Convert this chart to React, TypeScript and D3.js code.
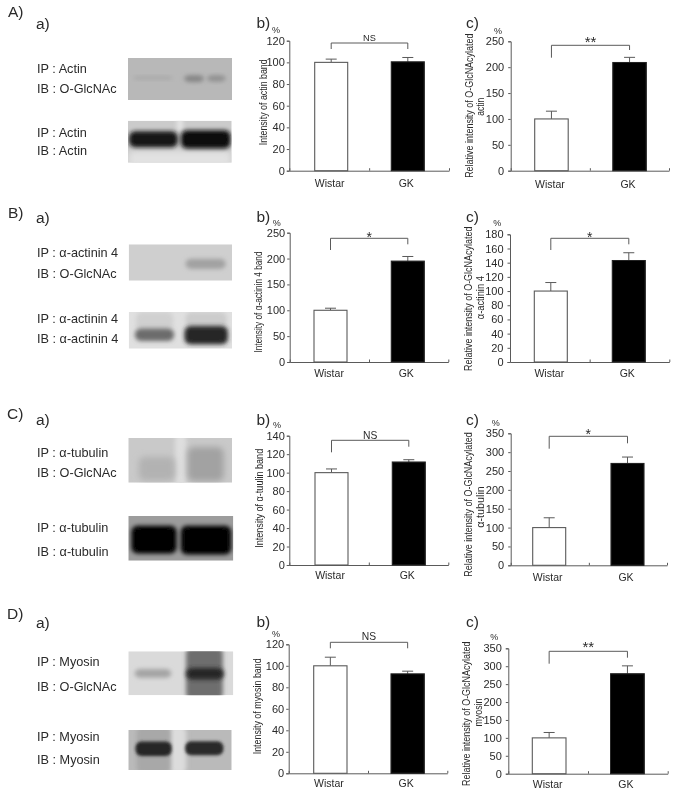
import React, { useEffect, useRef } from "react";
import * as d3 from "d3";

const groups = ["Wistar", "GK"];

// values: mean and upper error for Wistar, GK
const actinBandMeans = [100, 100.5];
const actinBandErrors = [3, 4];
const actinGlcMeans = [100, 209];
const actinGlcErrors = [15, 10];
const actininBandMeans = [100, 195];
const actininBandErrors = [4, 9];
const actininGlcMeans = [100, 143];
const actininGlcErrors = [12, 11];
const tubulinBandMeans = [100, 111.5];
const tubulinBandErrors = [4, 2.5];
const tubulinGlcMeans = [100, 270];
const tubulinGlcErrors = [26, 17];
const myosinBandMeans = [100, 92.5];
const myosinBandErrors = [8, 2.5];
const myosinGlcMeans = [100, 279];
const myosinGlcErrors = [15, 22];

const sectionLetters = ["A)", "B)", "C)", "D)"];
const sectionLabels = [
  ["IP : Actin", "IB : O-GlcNAc", "IP : Actin", "IB : Actin"],
  ["IP : α-actinin 4", "IB : O-GlcNAc", "IP : α-actinin 4", "IB : α-actinin 4"],
  ["IP : α-tubulin", "IB : O-GlcNAc", "IP : α-tubulin", "IB : α-tubulin"],
  ["IP : Myosin", "IB : O-GlcNAc", "IP : Myosin", "IB : Myosin"],
];

const charts = [
  { mark: "b)", means: actinBandMeans, errors: actinBandErrors, max: 120, step: 20, sig: "NS", title: ["Intensity of actin band"] },
  { mark: "c)", means: actinGlcMeans, errors: actinGlcErrors, max: 250, step: 50, sig: "**", title: ["Relative intensity of O-GlcNAcylated", "actin"] },
  { mark: "b)", means: actininBandMeans, errors: actininBandErrors, max: 250, step: 50, sig: "*", title: ["Intensity of  α-actinin 4 band"] },
  { mark: "c)", means: actininGlcMeans, errors: actininGlcErrors, max: 180, step: 20, sig: "*", title: ["Relative intensity of O-GlcNAcylated", "α-actinin 4"] },
  { mark: "b)", means: tubulinBandMeans, errors: tubulinBandErrors, max: 140, step: 20, sig: "NS", title: ["Intensity of α-tuulin band"] },
  { mark: "c)", means: tubulinGlcMeans, errors: tubulinGlcErrors, max: 350, step: 50, sig: "*", title: ["Relative intensity of O-GlcNAcylated", "α-tubulin"] },
  { mark: "b)", means: myosinBandMeans, errors: myosinBandErrors, max: 120, step: 20, sig: "NS", title: ["Intensity of myosin band"] },
  { mark: "c)", means: myosinGlcMeans, errors: myosinGlcErrors, max: 350, step: 50, sig: "**", title: ["Relative intensity of O-GlcNAcylated", "myosin"] },
];

// page layout, one row per chart above
// ax/top/bottom/right: axis box, b0/b1/bw: bars, br*: bracket, sigY, pct, markY, tx/ty: y title, l2: second title line, len: title lengths, gy: group label
const layout = [
  { ax: 289.3, top: 40.7, bottom: 170.7, right: 449, b0: 314.7, b1: 424.3, bw: 33, brY: 43, brL: 49, brR: 49, sigY: 41, sigSize: 9.2, pctX: 276, pctY: 33.4, markX: 256.5, markY: 28, tx: 263.3, ty: 102.3, l2: 0, l2y: 0, len: [86], gy: 186.7, pad: 1 },
  { ax: 510.7, top: 41.3, bottom: 170.7, right: 669, b0: 534.7, b1: 646.3, bw: 33.5, brY: 45.3, brL: 57.7, brR: 50, sigY: 46.5, sigSize: 15, pctX: 498, pctY: 34, markX: 466, markY: 28, tx: 470, ty: 105.7, l2: 481, l2y: 106.7, len: [144.3, 18], gy: 188, pad: 3 },
  { ax: 289.7, top: 232.7, bottom: 362, right: 448.3, b0: 314, b1: 424.3, bw: 33, brY: 238.3, brL: 250, brR: 244.3, sigY: 241.5, sigSize: 14, pctX: 276.7, pctY: 225.5, markX: 256.5, markY: 221.7, tx: 259, ty: 302, l2: 0, l2y: 0, len: [101], gy: 376.7, pad: 1 },
  { ax: 510, top: 234.3, bottom: 362, right: 669.3, b0: 534.3, b1: 645.3, bw: 33, brY: 238.3, brL: 250, brR: 244.3, sigY: 241.5, sigSize: 14, pctX: 497.3, pctY: 226, markX: 466, markY: 221.7, tx: 468.3, ty: 298.8, l2: 481, l2y: 297.7, len: [144.3, 43], gy: 376.7, pad: 3 },
  { ax: 289.3, top: 435.7, bottom: 565, right: 448.3, b0: 315, b1: 425.3, bw: 33, brY: 440.3, brL: 452.3, brR: 446.7, sigY: 438.5, sigSize: 10.3, pctX: 277, pctY: 428.4, markX: 256.5, markY: 425, tx: 259.7, ty: 498.3, l2: 0, l2y: 0, len: [99], gy: 579.3, pad: 1 },
  { ax: 510.7, top: 433.3, bottom: 565.3, right: 667, b0: 532.7, b1: 644, bw: 33, brY: 436.3, brL: 448.7, brR: 443.3, sigY: 439, sigSize: 14, pctX: 495.7, pctY: 425.7, markX: 466, markY: 425, tx: 468.3, ty: 504.5, l2: 481, l2y: 507, len: [144.3, 41.7], gy: 580.7, pad: 3 },
  { ax: 288.7, top: 644.3, bottom: 773.3, right: 447.3, b0: 313.7, b1: 424.3, bw: 33.3, brY: 642.3, brL: 648.3, brR: 648.3, sigY: 640, sigSize: 10.3, pctX: 276, pctY: 637, markX: 256.5, markY: 626.7, tx: 257.7, ty: 706.3, l2: 0, l2y: 0, len: [96], gy: 786.7, pad: 1 },
  { ax: 508.3, top: 648.3, bottom: 773.7, right: 667.7, b0: 532.3, b1: 644.3, bw: 33.7, brY: 651.3, brL: 663.7, brR: 657.7, sigY: 652, sigSize: 15, pctX: 494.3, pctY: 640, markX: 466, markY: 626.7, tx: 467, ty: 713.8, l2: 478.3, l2y: 712.5, len: [144.3, 28], gy: 788.3, pad: 3 },
];

const letterPos = [
  { x: 8, y: 17, ax: 36, ay: 29 },
  { x: 8, y: 217.7, ax: 36, ay: 222.7 },
  { x: 7, y: 419, ax: 36, ay: 425 },
  { x: 7, y: 619, ax: 36, ay: 627.7 },
];
const labelBaselines = [
  [73.3, 93.3, 137, 155],
  [257.3, 278, 323.3, 343.3],
  [456.7, 477.3, 532, 555.7],
  [666, 690.7, 740.7, 764],
];

// blot photographs: box in page px, patches as fractions of the box [x0, x1, y0, y1, grey, blur]
const blots = [
  { x0: 128, x1: 232, y0: 58, y1: 100, bg: "#b8b8b8", patches: [[0.05, 0.43, 0.43, 0.52, "#a9a9a9", 2], [0.54, 0.73, 0.41, 0.57, "#858585", 2], [0.76, 0.94, 0.41, 0.56, "#909090", 2]] },
  { x0: 128, x1: 231.7, y0: 120.7, y1: 162.7, bg: "#cbcbcb", patches: [[0, 1, 0.72, 1.1, "#e2e2e2", 3], [0.47, 0.53, -0.1, 0.28, "#e4e4e4", 2], [0.01, 0.48, 0.25, 0.63, "#141414", 2], [0.51, 0.99, 0.23, 0.66, "#0c0c0c", 2]] },
  { x0: 128.7, x1: 232, y0: 244.3, y1: 280.7, bg: "#cfcfcf", patches: [[0.55, 0.94, 0.4, 0.68, "#a2a2a2", 2]] },
  { x0: 128.7, x1: 232, y0: 312, y1: 348.7, bg: "#e0e0e0", patches: [[0.07, 0.43, 0, 0.5, "#d0d0d0", 2], [0.55, 0.95, 0, 0.42, "#cccccc", 2], [0.06, 0.44, 0.45, 0.79, "#6c6c6c", 2], [0.54, 0.96, 0.38, 0.88, "#262626", 2]] },
  { x0: 128.3, x1: 232, y0: 438, y1: 482.7, bg: "#c9c9c9", patches: [[0.45, 0.56, -0.1, 1.1, "#dedede", 2], [0.1, 0.45, 0.42, 0.95, "#b2b2b2", 3], [0.57, 0.92, 0.2, 0.97, "#a2a2a2", 3]] },
  { x0: 128.3, x1: 233.3, y0: 516, y1: 560.7, bg: "#9c9c9c", patches: [[0.03, 0.46, 0.22, 0.84, "#060606", 2], [0.5, 0.98, 0.22, 0.86, "#040404", 2]] },
  { x0: 128.3, x1: 233.3, y0: 651.3, y1: 695.3, bg: "#dadada", patches: [[0.06, 0.41, 0.4, 0.6, "#a4a4a4", 2], [0.55, 0.9, -0.1, 1.1, "#6e6e6e", 2], [0.55, 0.91, 0.38, 0.64, "#262626", 2]] },
  { x0: 128.3, x1: 231.7, y0: 730, y1: 770, bg: "#bababa", patches: [[0.4, 0.56, -0.1, 1.1, "#dcdcdc", 2], [0.08, 0.41, -0.1, 1.1, "#a8a8a8", 2], [0.07, 0.42, 0.29, 0.65, "#282828", 1.5], [0.55, 0.92, 0.28, 0.63, "#2c2c2c", 1.5]] },
];

const FONT = "'Liberation Sans', Arial, sans-serif";
const INK = "#2a2a2a";
const LINE = "#5a5a5a";

const App = () => {
  const ref = useRef<SVGSVGElement | null>(null);

  useEffect(() => {
    const svg = d3.select(ref.current);
    svg.selectAll("*").remove();
    svg.attr("font-family", FONT).attr("fill", INK);

    const defs = svg.append("defs");
    [1.5, 2, 3].forEach((s) => {
      defs.append("filter")
        .attr("id", `blur${String(s).replace(".", "_")}`)
        .attr("x", "-50%").attr("y", "-50%").attr("width", "200%").attr("height", "200%")
        .append("feGaussianBlur").attr("stdDeviation", s);
    });
    // the scan is a bit soft overall
    defs.append("filter").attr("id", "soft")
      .attr("filterUnits", "userSpaceOnUse")
      .attr("x", 0).attr("y", 0).attr("width", 685).attr("height", 806)
      .append("feGaussianBlur").attr("stdDeviation", 0.35);

    const root = svg.append("g").attr("filter", "url(#soft)");

    // blots
    blots.forEach((b, i) => {
      const sx = d3.scaleLinear().domain([0, 1]).range([b.x0, b.x1]);
      const sy = d3.scaleLinear().domain([0, 1]).range([b.y0, b.y1]);
      defs.append("clipPath").attr("id", `blot${i}`)
        .append("rect").attr("x", b.x0).attr("y", b.y0).attr("width", b.x1 - b.x0).attr("height", b.y1 - b.y0);
      const g = root.append("g").attr("clip-path", `url(#blot${i})`);
      g.append("rect").attr("x", b.x0).attr("y", b.y0).attr("width", b.x1 - b.x0).attr("height", b.y1 - b.y0).attr("fill", b.bg);
      g.selectAll("rect.patch").data(b.patches).join("rect").attr("class", "patch")
        .attr("x", (p: any) => sx(p[0]))
        .attr("width", (p: any) => sx(p[1]) - sx(p[0]))
        .attr("y", (p: any) => sy(p[2]))
        .attr("height", (p: any) => sy(p[3]) - sy(p[2]))
        .attr("rx", 6)
        .attr("fill", (p: any) => p[4])
        .attr("filter", (p: any) => `url(#blur${String(p[5]).replace(".", "_")})`);
    });

    // left column text
    sectionLetters.forEach((letter, i) => {
      const p = letterPos[i];
      root.append("text").attr("x", p.x).attr("y", p.y).attr("font-size", 15.5).text(letter);
      root.append("text").attr("x", p.ax).attr("y", p.ay).attr("font-size", 15.5).text("a)");
      sectionLabels[i].forEach((t, j) => {
        root.append("text").attr("x", 37).attr("y", labelBaselines[i][j]).attr("font-size", 12.7).text(t);
      });
    });

    // bar charts
    charts.forEach((c, i) => {
      const l = layout[i];
      const g = root.append("g");
      const y = d3.scaleLinear().domain([0, c.max]).range([l.bottom, l.top]);
      const gap = l.b1 - l.b0 - 2 * l.bw;
      const x = d3.scaleBand().domain(groups).range([l.b0, l.b1]).paddingInner(gap / (l.bw + gap));
      const mid = (name: string) => (x(name) as number) + x.bandwidth() / 2;

      const yAxis = d3.axisLeft(y)
        .tickValues(d3.range(0, c.max + 1, c.step))
        .tickSize(2.5)
        .tickPadding(l.pad + 1);
      const ga = g.append("g").attr("transform", `translate(${l.ax},0)`).call(yAxis);
      ga.selectAll("path,line").attr("stroke", LINE);
      ga.selectAll("text").attr("font-size", 11).attr("font-family", FONT).attr("fill", INK);

      const xAxis = d3.axisBottom(d3.scaleLinear().domain([0, 2]).range([l.ax, l.right]))
        .tickValues([0, 1, 2])
        .tickSize(-2.5)
        .tickSizeOuter(0)
        .tickFormat(() => "");
      const gx = g.append("g").attr("transform", `translate(0,${l.bottom})`).call(xAxis);
      gx.selectAll("path,line").attr("stroke", LINE);

      // error bars first, the bars sit on top of the stems
      g.selectAll("line.stem").data(groups).join("line").attr("class", "stem")
        .attr("x1", (d) => mid(d)).attr("x2", (d) => mid(d))
        .attr("y1", (d, k) => y(c.means[k]))
        .attr("y2", (d, k) => y(c.means[k] + c.errors[k]))
        .attr("stroke", LINE);
      g.selectAll("line.cap").data(groups).join("line").attr("class", "cap")
        .attr("x1", (d) => mid(d) - 5.5).attr("x2", (d) => mid(d) + 5.5)
        .attr("y1", (d, k) => y(c.means[k] + c.errors[k]))
        .attr("y2", (d, k) => y(c.means[k] + c.errors[k]))
        .attr("stroke", LINE);
      g.selectAll("rect.bar").data(groups).join("rect").attr("class", "bar")
        .attr("x", (d) => x(d) as number)
        .attr("width", x.bandwidth())
        .attr("y", (d, k) => y(c.means[k]))
        .attr("height", (d, k) => l.bottom - y(c.means[k]))
        .attr("fill", (d, k) => (k === 0 ? "#fff" : "#000"))
        .attr("stroke", (d, k) => (k === 0 ? LINE : "#222"))
        .attr("stroke-width", 1.1);

      g.selectAll("text.group").data(groups).join("text").attr("class", "group")
        .attr("x", (d) => mid(d) - 1.5).attr("y", l.gy)
        .attr("text-anchor", "middle").attr("font-size", 10.5)
        .text((d) => d);

      // significance bracket
      const bx0 = mid(groups[0]);
      const bx1 = mid(groups[1]);
      g.append("path")
        .attr("d", d3.line()([[bx0, l.brL], [bx0, l.brY], [bx1, l.brY], [bx1, l.brR]]))
        .attr("fill", "none").attr("stroke", LINE);
      g.append("text")
        .attr("x", (bx0 + bx1) / 2).attr("y", l.sigY)
        .attr("text-anchor", "middle")
        .attr("font-size", l.sigSize)
        .text(c.sig);

      g.append("text").attr("x", l.pctX).attr("y", l.pctY).attr("text-anchor", "middle").attr("font-size", 9).text("%");
      g.append("text").attr("x", l.markX).attr("y", l.markY).attr("font-size", 15.5).text(c.mark);

      // y title, one or two rotated lines, squeezed to the length in the scan
      c.title.forEach((t, k) => {
        const tx = (k === 0 ? l.tx : l.l2) + 3.3;
        const ty = k === 0 ? l.ty : l.l2y;
        g.append("text")
          .attr("transform", `translate(${tx},${ty}) rotate(-90)`)
          .attr("text-anchor", "middle").attr("font-size", 10)
          .attr("textLength", l.len[k])
          .attr("lengthAdjust", "spacingAndGlyphs")
          .text(t);
      });
    });
  }, []);

  return (
    <svg
      ref={ref}
      width={685}
      height={806}
      style={{ position: "absolute", left: 0, top: 0, background: "#fff" }}
    />
  );
};

export default App;
